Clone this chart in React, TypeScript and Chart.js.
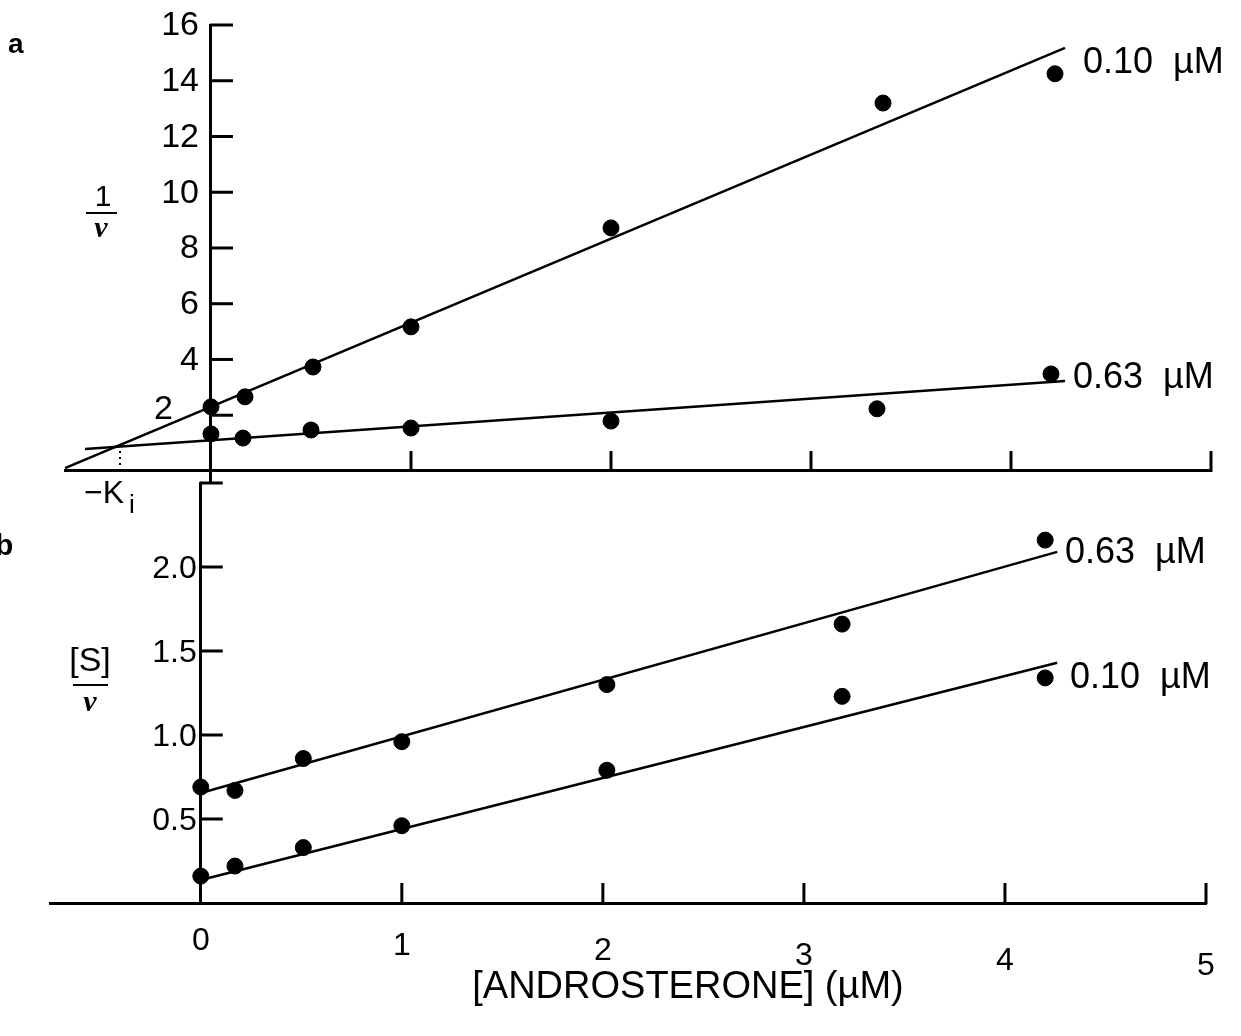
import React, { useEffect, useRef } from "react";
import { Chart, registerables } from "chart.js";

Chart.register(...registerables);

// ---------- Panel a: 1/v vs [androsterone] ----------
const concA010 = [0, 0.17, 0.51, 1.0, 2.0, 3.36, 4.22];
const invV010 = [2.3, 2.66, 3.73, 5.17, 8.72, 13.2, 14.25];
const concA063 = [0, 0.16, 0.5, 1.0, 2.0, 3.33, 4.2];
const invV063 = [1.33, 1.18, 1.47, 1.54, 1.79, 2.23, 3.48];
const fitA010X = [-0.73, 4.27];
const fitA010Y = [0.1, 15.18];
const fitA063X = [-0.63, 4.27];
const fitA063Y = [0.79, 3.23];
const kiX = [-0.455, -0.455];
const kiY = [0, 0.9];
const yTicksA = [2, 4, 6, 8, 10, 12, 14, 16];
const xTicksA = [1, 2, 3, 4, 5];

// ---------- Panel b: [S]/v vs [androsterone] ----------
const concB = [0, 0.17, 0.51, 1.0, 2.02, 3.19, 4.2];
const sv063 = [0.69, 0.67, 0.86, 0.96, 1.3, 1.66, 2.16];
const sv010 = [0.16, 0.22, 0.33, 0.46, 0.79, 1.23, 1.34];
const fitBX = [0, 4.26];
const fitB063Y = [0.655, 2.09];
const fitB010Y = [0.137, 1.43];
const yTicksB = [0.5, 1.0, 1.5, 2.0, 2.5];
const yLabelsB = ["0.5", "1.0", "1.5", "2.0", ""];
const xTicksB = [0, 1, 2, 3, 4, 5];
const xLabelsB = ["0", "1", "2", "3", "4", "5"];

const seriesNames = ["0.10  \u00B5M", "0.63  \u00B5M"];

const SANS = '"Liberation Sans", Arial, sans-serif';
const SERIF = '"Liberation Serif", "Times New Roman", serif';

const pts = (xs: number[], ys: number[]) => xs.map((x, i) => ({ x, y: ys[i] }));

const lineDs = (xs: number[], ys: number[], extra: any = {}) => ({
  type: "line" as const,
  data: pts(xs, ys),
  borderColor: "#000",
  borderWidth: 2.5,
  pointRadius: 0,
  fill: false,
  tension: 0,
  ...extra,
});

const pointDs = (xs: number[], ys: number[]) => ({
  type: "scatter" as const,
  data: pts(xs, ys),
  backgroundColor: "#000",
  borderColor: "#000",
  pointRadius: 8,
  pointHoverRadius: 8,
  showLine: false,
});

const axisCfg = (min: number, max: number, pos: any) => ({
  type: "linear" as const,
  min,
  max,
  position: pos,
  grid: { display: false, drawTicks: false },
  border: { display: true, color: "#000", width: 3 },
  ticks: { display: false },
});

export default function App() {
  const refA = useRef<HTMLCanvasElement>(null);
  const refB = useRef<HTMLCanvasElement>(null);

  useEffect(() => {
    const decorA = {
      id: "decorA",
      afterDraw(chart: any) {
        const ctx = chart.ctx;
        const xs = chart.scales.x;
        const ys = chart.scales.y;
        const ax = xs.getPixelForValue(0);
        const ay = ys.getPixelForValue(0);
        ctx.save();
        ctx.strokeStyle = "#000";
        ctx.fillStyle = "#000";
        ctx.lineWidth = 3;
        ctx.lineCap = "butt";
        // x tick marks (upward)
        xTicksA.forEach((v) => {
          const px = xs.getPixelForValue(v);
          ctx.beginPath();
          ctx.moveTo(px, ay + 1);
          ctx.lineTo(px, ay - 20);
          ctx.stroke();
        });
        // y tick marks (rightward) + labels
        ctx.font = `34px ${SANS}`;
        ctx.textAlign = "right";
        ctx.textBaseline = "middle";
        yTicksA.forEach((v) => {
          const py = ys.getPixelForValue(v);
          ctx.beginPath();
          ctx.moveTo(ax - 1, py);
          ctx.lineTo(ax + 22, py);
          ctx.stroke();
          const lx = v === 2 ? ax - 38 : ax - 12;
          const ly = v === 2 ? py - 6 : py + 1;
          ctx.fillText(String(v), lx, ly);
        });
        // panel letter
        ctx.textAlign = "left";
        ctx.font = `bold 28px ${SANS}`;
        ctx.fillText("a", 8, 45);
        // y title 1/v
        ctx.textAlign = "center";
        ctx.font = `30px ${SANS}`;
        ctx.fillText("1", 103, 198);
        ctx.lineWidth = 2;
        ctx.beginPath();
        ctx.moveTo(86, 213);
        ctx.lineTo(117, 213);
        ctx.stroke();
        ctx.font = `bold italic 30px ${SERIF}`;
        ctx.fillText("v", 101, 229);
        // series labels
        ctx.textAlign = "left";
        ctx.font = `36px ${SANS}`;
        ctx.fillText(seriesNames[0], 1083, 63);
        ctx.fillText(seriesNames[1], 1073, 378);
        ctx.restore();
      },
    };

    const decorB = {
      id: "decorB",
      afterDraw(chart: any) {
        const ctx = chart.ctx;
        const xs = chart.scales.x;
        const ys = chart.scales.y;
        const ax = xs.getPixelForValue(0);
        const ay = ys.getPixelForValue(0);
        ctx.save();
        ctx.strokeStyle = "#000";
        ctx.fillStyle = "#000";
        ctx.lineWidth = 3;
        // x tick marks (upward) + labels
        ctx.font = `32px ${SANS}`;
        ctx.textAlign = "center";
        ctx.textBaseline = "middle";
        xTicksB.forEach((v, i) => {
          const px = xs.getPixelForValue(v);
          if (v !== 0) {
            ctx.beginPath();
            ctx.moveTo(px, ay + 1);
            ctx.lineTo(px, ay - 20);
            ctx.stroke();
          }
          ctx.fillText(xLabelsB[i], px, ay + 38 + i * 5);
        });
        // y tick marks + labels
        ctx.textAlign = "right";
        yTicksB.forEach((v, i) => {
          const py = ys.getPixelForValue(v);
          ctx.beginPath();
          ctx.moveTo(ax - 1, py);
          ctx.lineTo(ax + 22, py);
          ctx.stroke();
          if (yLabelsB[i]) ctx.fillText(yLabelsB[i], ax - 4, py + 2);
        });
        // -Ki label (belongs to panel a, drawn here to stay on-canvas)
        ctx.textAlign = "left";
        ctx.font = `32px ${SANS}`;
        ctx.fillText("\u2212K", 84, 24);
        ctx.font = `26px ${SANS}`;
        ctx.fillText("i", 129, 36);
        // panel letter
        ctx.font = `bold 30px ${SANS}`;
        ctx.fillText("b", -5, 77);
        // y title [S]/v
        ctx.textAlign = "center";
        ctx.font = `34px ${SANS}`;
        ctx.fillText("[S]", 90, 192);
        ctx.lineWidth = 2;
        ctx.beginPath();
        ctx.moveTo(73, 215);
        ctx.lineTo(108, 215);
        ctx.stroke();
        ctx.font = `bold italic 30px ${SERIF}`;
        ctx.fillText("v", 90, 233);
        // series labels
        ctx.textAlign = "left";
        ctx.font = `36px ${SANS}`;
        ctx.fillText(seriesNames[1], 1065, 83);
        ctx.fillText(seriesNames[0], 1070, 208);
        // x title
        ctx.textAlign = "center";
        ctx.font = `38px ${SANS}`;
        ctx.fillText("[ANDROSTERONE] (\u00B5M)", 688, 518);
        ctx.restore();
      },
    };

    const baseOpts = {
      responsive: false,
      animation: false as const,
      events: [] as any[],
      plugins: { legend: { display: false }, tooltip: { enabled: false }, title: { display: false } },
    };

    const chartA = new Chart(refA.current!, {
      type: "scatter",
      data: {
        datasets: [
          lineDs(fitA010X, fitA010Y),
          lineDs(fitA063X, fitA063Y),
          lineDs(kiX, kiY, { borderWidth: 2, borderDash: [2, 4] }),
          pointDs(concA010, invV010),
          pointDs(concA063, invV063),
        ] as any,
      },
      options: {
        ...baseOpts,
        layout: { padding: { left: 65, right: 30, top: 25, bottom: 16.5 } },
        scales: {
          x: axisCfg(-0.73, 5, { y: 0 }),
          y: axisCfg(-0.45, 16, { x: 0 }),
        },
      } as any,
      plugins: [decorA],
    });

    const chartB = new Chart(refB.current!, {
      type: "scatter",
      data: {
        datasets: [
          lineDs(fitBX, fitB063Y),
          lineDs(fitBX, fitB010Y),
          pointDs(concB, sv063),
          pointDs(concB, sv010),
        ] as any,
      },
      options: {
        ...baseOpts,
        layout: { padding: { left: 50, right: 35, top: 13, bottom: 133 } },
        scales: {
          x: axisCfg(-0.75, 5, { y: 0 }),
          y: axisCfg(0, 2.5, { x: 0 }),
        },
      } as any,
      plugins: [decorB],
    });

    return () => {
      chartA.destroy();
      chartB.destroy();
    };
  }, []);

  return (
    <div style={{ position: "absolute", left: 0, top: 0, width: 1241, height: 1036, background: "#fff" }}>
      <canvas ref={refA} width={1241} height={500} style={{ position: "absolute", left: 0, top: 0 }} />
      <canvas ref={refB} width={1241} height={566} style={{ position: "absolute", left: 0, top: 470 }} />
    </div>
  );
}
